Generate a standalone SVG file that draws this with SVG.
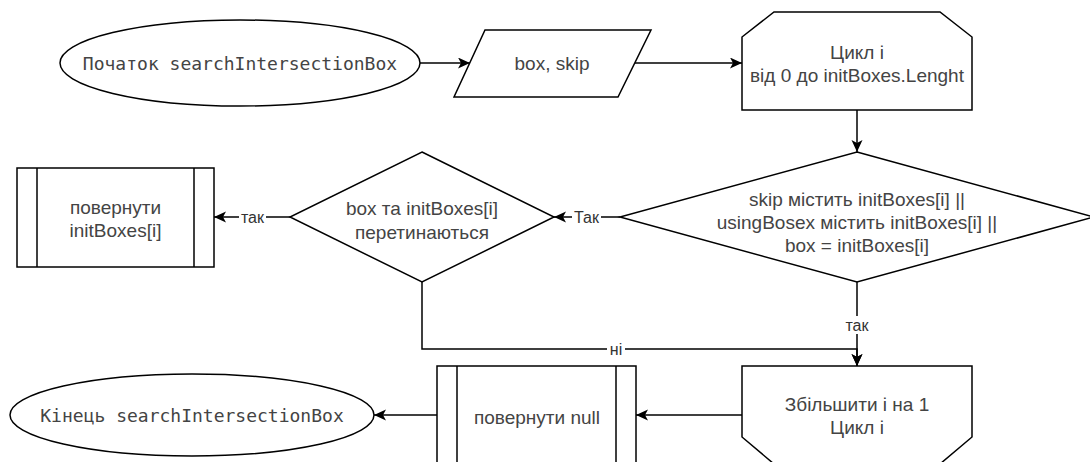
<svg xmlns="http://www.w3.org/2000/svg" width="1090" height="462" viewBox="0 0 1090 462">
  <style>
    .shape { fill: #ffffff; stroke: #000000; stroke-width: 1.5; }
    .bar { fill: none; stroke: #000000; stroke-width: 1.5; }
    .edge { fill: none; stroke: #000000; stroke-width: 1.5; }
    .txt { font-family: "Liberation Sans", Arial, sans-serif; font-size: 19px; fill: #444444; text-anchor: middle; }
    .mono { font-family: "DejaVu Sans Mono", "Liberation Mono", monospace; font-size: 18px; fill: #444444; text-anchor: middle; }
    .lbl { font-family: "Liberation Sans", Arial, sans-serif; font-size: 16px; fill: #333333; text-anchor: middle; }
    .lblbg { fill: #ffffff; stroke: none; }
  </style>
  <defs>
    <marker id="arrow" markerUnits="userSpaceOnUse" markerWidth="13" markerHeight="12" refX="12" refY="5.5" orient="auto">
      <path d="M0,0 L12,5.5 L0,11 L3,5.5 z" fill="#000000"/>
    </marker>
  </defs>

  <rect width="1090" height="462" fill="#ffffff"/>

  <!-- connectors -->
  <g id="connectors">
    <line class="edge" x1="420" y1="63" x2="470" y2="63" marker-end="url(#arrow)"/>
    <line class="edge" x1="635" y1="63" x2="742" y2="63" marker-end="url(#arrow)"/>
    <line class="edge" x1="857" y1="110" x2="857" y2="152" marker-end="url(#arrow)"/>
    <line class="edge" x1="620" y1="217" x2="554" y2="217" marker-end="url(#arrow)"/>
    <line class="edge" x1="290" y1="217" x2="214" y2="217" marker-end="url(#arrow)"/>
    <polyline class="edge" points="422,282 422,349 857,349 857,366" marker-end="url(#arrow)"/>
    <line class="edge" x1="857" y1="282" x2="857" y2="366" marker-end="url(#arrow)"/>
    <line class="edge" x1="742" y1="415" x2="636" y2="415" marker-end="url(#arrow)"/>
    <line class="edge" x1="437" y1="415" x2="374" y2="415" marker-end="url(#arrow)"/>

    <!-- edge labels -->
    <rect class="lblbg" x="572" y="208" width="29" height="18"/>
    <text class="lbl" x="586.5" y="222.5">Так</text>
    <rect class="lblbg" x="239" y="208" width="27" height="18"/>
    <text class="lbl" x="252.5" y="222.5">так</text>
    <rect class="lblbg" x="843" y="316" width="28" height="18"/>
    <text class="lbl" x="857" y="330.5">так</text>
    <rect class="lblbg" x="607" y="340" width="18" height="18"/>
    <text class="lbl" x="616" y="354.5">ні</text>
  </g>

  <!-- start terminator -->
  <g id="start">
    <ellipse class="shape" cx="240" cy="63" rx="180" ry="43"/>
    <text class="mono" x="240" y="69.5">Початок searchIntersectionBox</text>
  </g>

  <!-- input data -->
  <g id="input">
    <polygon class="shape" points="485,30 651,30 618,97 454,97"/>
    <text class="txt" x="552" y="70">box, skip</text>
  </g>

  <!-- loop start -->
  <g id="loop-start">
    <polygon class="shape" points="742,37 774,12 940,12 972,37 972,110 742,110"/>
    <text class="txt" x="857" y="58.6">Цикл і</text>
    <text class="txt" x="857" y="81.6">від 0 до initBoxes.Lenght</text>
  </g>

  <!-- skip condition -->
  <g id="skip-check">
    <polygon class="shape" points="857,152 1094,217 857,282 620,217"/>
    <text class="txt" x="857" y="205.6">skip містить initBoxes[i] ||</text>
    <text class="txt" x="857" y="228.6">usingBosex містить initBoxes[i] ||</text>
    <text class="txt" x="857" y="251.6">box = initBoxes[i]</text>
  </g>

  <!-- intersection condition -->
  <g id="intersect-check">
    <polygon class="shape" points="422,152 554,217 422,282 290,217"/>
    <text class="txt" x="422" y="215">box та initBoxes[i]</text>
    <text class="txt" x="422" y="238.5">перетинаються</text>
  </g>

  <!-- return found box -->
  <g id="return-box">
    <rect class="shape" x="17" y="168" width="197" height="99"/>
    <line class="bar" x1="37" y1="168" x2="37" y2="267"/>
    <line class="bar" x1="194" y1="168" x2="194" y2="267"/>
    <text class="txt" x="115.5" y="213.6">повернути</text>
    <text class="txt" x="115.5" y="236.6">initBoxes[i]</text>
  </g>

  <!-- loop end -->
  <g id="loop-end">
    <polygon class="shape" points="742,366 972,366 972,437 940,464 774,464 742,437"/>
    <text class="txt" x="857" y="410.6">Збільшити і на 1</text>
    <text class="txt" x="857" y="433.6">Цикл і</text>
  </g>

  <!-- return null -->
  <g id="return-null">
    <rect class="shape" x="437" y="366" width="199" height="110"/>
    <line class="bar" x1="457" y1="366" x2="457" y2="476"/>
    <line class="bar" x1="616" y1="366" x2="616" y2="476"/>
    <text class="txt" x="537" y="423.6">повернути null</text>
  </g>

  <!-- end terminator -->
  <g id="end">
    <ellipse class="shape" cx="192" cy="415" rx="182" ry="41"/>
    <text class="mono" x="192" y="421.5">Кінець searchIntersectionBox</text>
  </g>
</svg>
